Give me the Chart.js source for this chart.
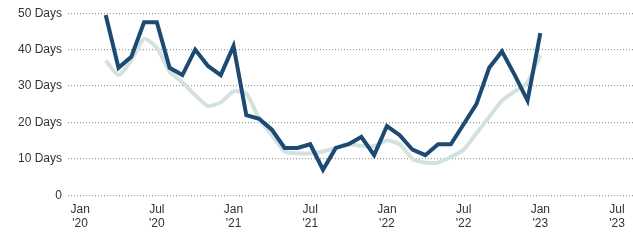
<!DOCTYPE html>
<html>
<head>
<meta charset="utf-8">
<script src="https://cdn.jsdelivr.net/npm/chart.js@4.4.0/dist/chart.umd.min.js"></script>
<style>
  html, body { margin: 0; padding: 0; background: #fff; }
  #wrap { width: 633px; height: 240px; }
</style>
</head>
<body>
<div id="wrap"><canvas id="myChart"></canvas></div>
<script>
// month index: 0 = Jan 2020
const months = [2, 3, 4, 5, 6, 7, 8, 9, 10, 11, 12, 13, 14, 15, 16, 17, 18, 19, 20, 21, 22, 23, 24, 25, 26, 27, 28, 29, 30, 31, 32, 33, 34, 35, 36];

const darkSeries = [49.5, 35, 38, 47.5, 47.5, 35, 33, 40, 35.5, 33, 41, 22, 21, 18, 13, 13, 14, 7, 13, 14, 16, 11, 19, 16.5, 12.5, 11, 14, 14, 19.5, 25, 35, 39.5, 33, 26, 44.5];
const lightSeries = [37, 33, 37, 43, 40.5, 34, 31, 27.5, 24.5, 25.5, 28.5, 28, 21, 16.5, 12, 11.5, 11.5, 12, 13, 14, 13.5, 13.5, 15, 14, 10, 9, 9, 10.5, 12.5, 17, 21.5, 26, 28.5, 31, 38.5];

const tickMonths = [0, 6, 12, 18, 24, 30, 36, 42];
const tickLabels = [["Jan", "'20"], ["Jul", "'20"], ["Jan", "'21"], ["Jul", "'21"], ["Jan", "'22"], ["Jul", "'22"], ["Jan", "'23"], ["Jul", "'23"]];

const yTicks = [0, 10, 20, 30, 40, 50];

function toPoints(values) {
  return values.map((v, i) => ({ x: months[i], y: v }));
}

const ctx = document.getElementById("myChart").getContext("2d");
new Chart(ctx, {
  type: "line",
  data: {
    datasets: [
      {
        label: "Dark",
        data: toPoints(darkSeries),
        borderColor: "#1c4a73",
        borderWidth: 4,
        pointRadius: 0,
        tension: 0,
        borderJoinStyle: "miter",
      },
      {
        label: "Light",
        data: toPoints(lightSeries),
        borderColor: "#d2e2df",
        borderWidth: 4,
        pointRadius: 0,
        tension: 0.2,
      },
    ],
  },
  options: {
    responsive: true,
    maintainAspectRatio: false,
    animation: false,
    layout: { padding: { left: 0, right: 0, top: 4, bottom: 2 } },
    plugins: { legend: { display: false }, tooltip: { enabled: false } },
    scales: {
      x: {
        type: "linear",
        min: -0.95,
        max: 43.25,
        afterBuildTicks: (scale) => {
          scale.ticks = tickMonths.map((v) => ({ value: v }));
        },
        ticks: {
          autoSkip: false,
          maxRotation: 0,
          padding: 7,
          color: "#333",
          font: { family: "Liberation Sans, Arial", size: 12 },
          callback: (v) => tickLabels[tickMonths.indexOf(v)],
        },
        grid: { display: false, drawTicks: false },
        border: { display: false },
      },
      y: {
        min: 0,
        max: 50,
        afterBuildTicks: (scale) => {
          scale.ticks = yTicks.map((v) => ({ value: v }));
        },
        afterFit: (scale) => {
          scale.width = 68;
        },
        ticks: {
          padding: 6,
          color: "#333",
          font: { family: "Liberation Sans, Arial", size: 12 },
          callback: (v) => (v === 0 ? "0" : v + " Days"),
        },
        grid: {
          color: "#999",
          lineWidth: 1.2,
          drawTicks: false,
        },
        border: { display: false, dash: [1, 2] },
      },
    },
  },
});
</script>
</body>
</html>
